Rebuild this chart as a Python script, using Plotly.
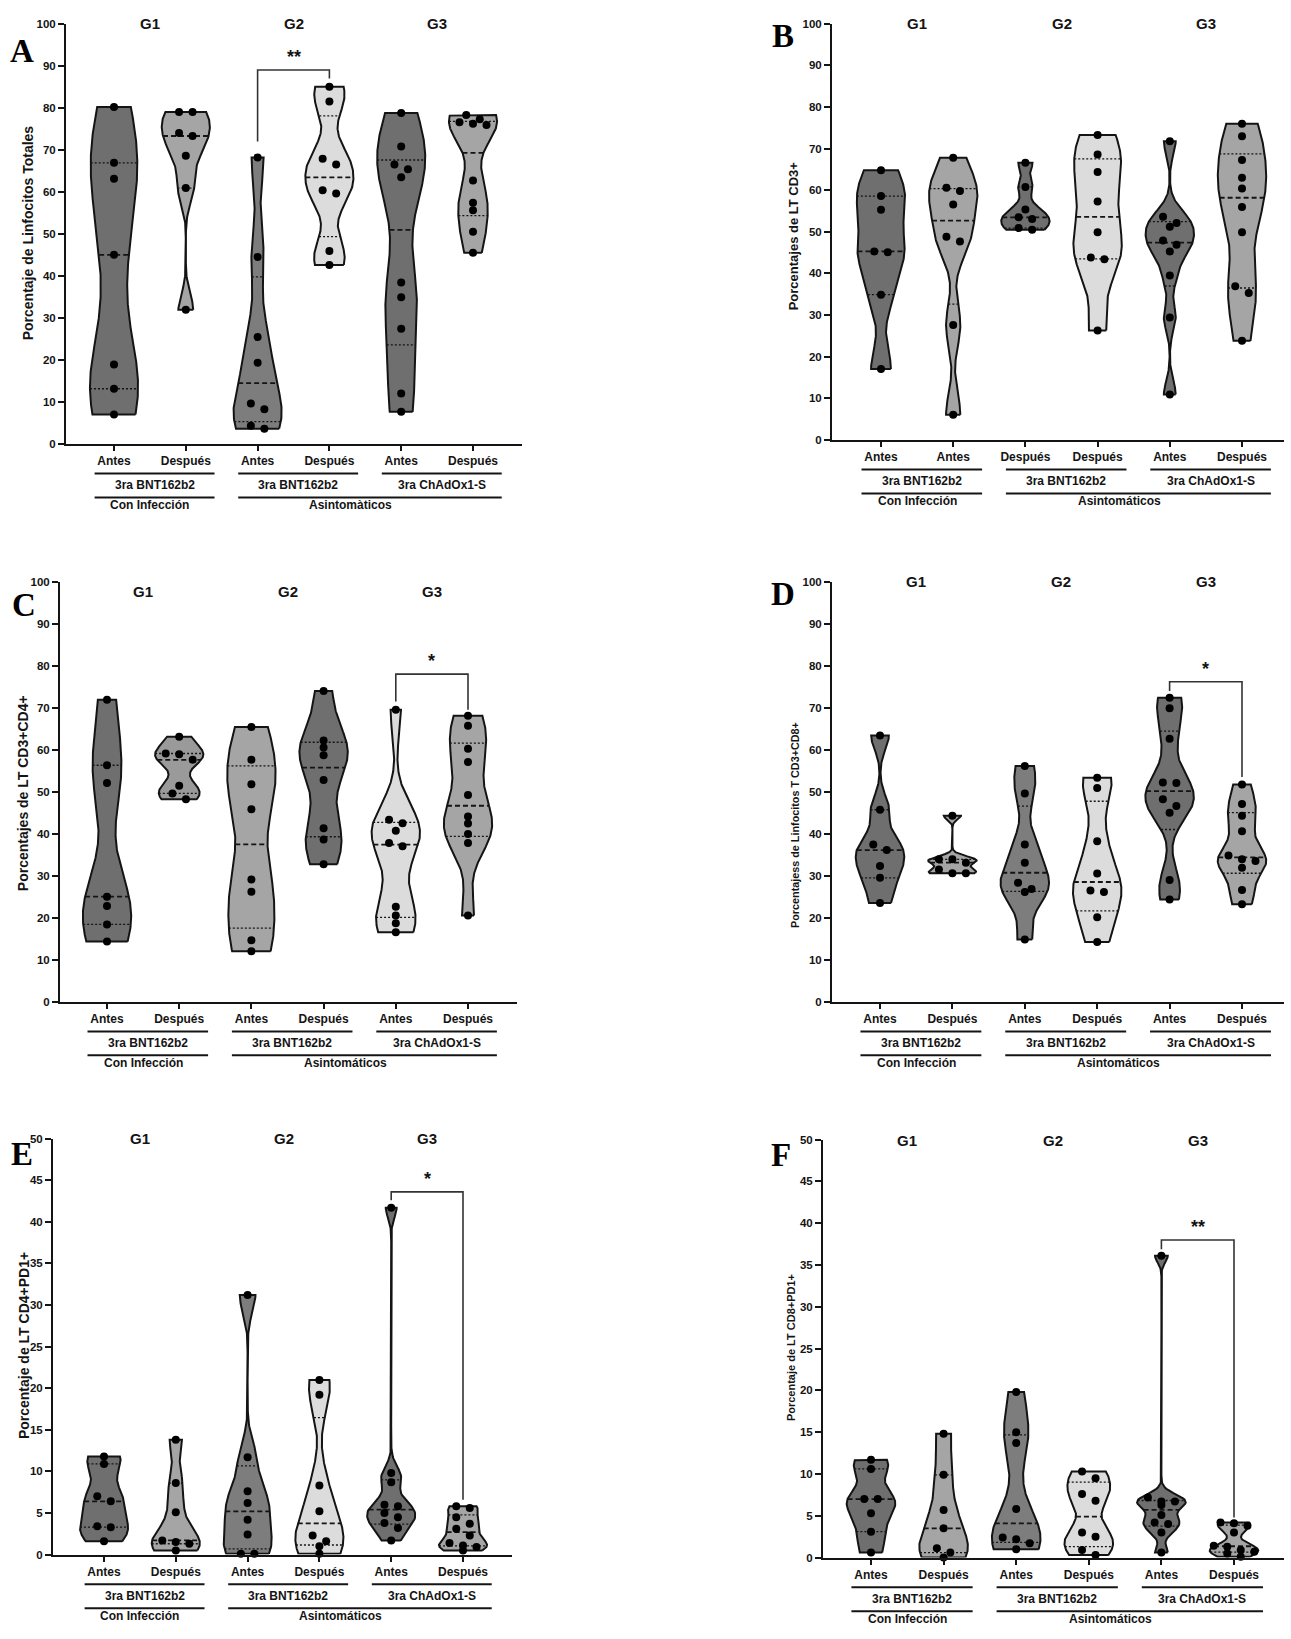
import numpy as np
import plotly.graph_objects as go

W, H = 1291, 1639

# ---------------- data ----------------
cats_std = ["Antes", "Después", "Antes", "Después", "Antes", "Después"]
cats_b = ["Antes", "Antes", "Después", "Después", "Antes", "Después"]
grupos = ["G1", "G2", "G3"]
vacunas = ["3ra BNT162b2", "3ra BNT162b2", "3ra ChAdOx1-S"]
estado_a = ["Con Infección", "Asintomàticos"]
estado = ["Con Infección", "Asintomáticos"]

# A: Porcentaje de Linfocitos Totales
a_g1_antes = [80.2, 66.9, 63.1, 45.0, 18.9, 13.1, 7.0]
a_g1_despues = [79.0, 79.0, 74.0, 73.3, 68.6, 60.9, 31.9]
a_g2_antes = [68.2, 44.5, 25.4, 19.3, 9.6, 8.2, 4.3, 3.6]
a_g2_despues = [85.0, 81.5, 67.9, 66.5, 60.4, 59.6, 45.9, 42.6]
a_g3_antes = [78.8, 70.8, 66.5, 65.4, 63.5, 38.4, 34.9, 27.4, 12.0, 7.6]
a_g3_despues = [78.3, 77.3, 76.6, 76.2, 75.9, 62.7, 57.4, 55.6, 50.5, 45.5]

# B: Porcentajes de LT CD3+
b_g1_1 = [64.8, 58.6, 55.3, 45.3, 45.1, 34.9, 17.0]
b_g1_2 = [67.8, 60.6, 59.8, 56.6, 48.8, 47.7, 27.6, 6.0]
b_g2_1 = [66.6, 60.8, 55.4, 53.5, 53.1, 50.9, 50.5]
b_g2_2 = [73.3, 68.6, 64.4, 57.3, 49.9, 43.8, 43.4, 26.3]
b_g3_antes = [71.8, 53.6, 52.1, 51.2, 47.9, 46.9, 45.3, 39.5, 29.4, 10.9]
b_g3_despues = [76.0, 73.0, 67.3, 63.0, 60.4, 56.0, 49.9, 36.9, 35.3, 23.8]

# C: Porcentajes de LT CD3+CD4+
c_g1_antes = [71.9, 56.3, 52.1, 25.0, 22.8, 18.4, 14.3]
c_g1_despues = [63.1, 59.1, 58.9, 57.6, 51.4, 49.6, 48.2]
c_g2_antes = [65.4, 57.6, 51.8, 45.8, 29.1, 26.2, 14.6, 12.0]
c_g2_despues = [74.0, 62.2, 60.5, 58.7, 52.8, 41.3, 38.6, 32.7]
c_g3_antes = [69.5, 43.3, 42.5, 40.7, 37.8, 37.0, 22.6, 20.5, 18.7, 16.5]
c_g3_despues = [68.1, 65.7, 60.2, 57.1, 49.2, 44.1, 42.4, 39.9, 37.8, 20.5]

# D: Porcentajess de Linfocitos T CD3+CD8+
d_g1_antes = [63.4, 45.7, 37.4, 36.1, 32.3, 29.5, 23.5]
d_g1_despues = [44.3, 33.9, 33.9, 33.1, 31.5, 30.6, 30.6]
d_g2_antes = [56.1, 49.6, 37.4, 33.1, 28.3, 26.8, 26.1, 14.8]
d_g2_despues = [53.3, 50.9, 38.2, 30.5, 26.5, 26.1, 20.1, 14.2]
d_g3_antes = [72.4, 69.9, 62.6, 52.2, 52.1, 48.2, 46.6, 45.0, 29.0, 24.3]
d_g3_despues = [51.7, 47.1, 44.3, 40.6, 34.8, 33.9, 33.5, 31.9, 26.6, 23.2]

# E: Porcentaje de LT CD4+PD1+
e_g1_antes = [11.8, 10.9, 7.0, 6.4, 3.4, 3.3, 1.6]
e_g1_despues = [13.8, 8.6, 5.1, 1.7, 1.5, 1.3, 0.5]
e_g2_antes = [31.2, 11.7, 7.6, 6.2, 4.2, 2.4, 0.1, 0.1]
e_g2_despues = [21.0, 19.2, 8.3, 5.2, 2.3, 1.6, 1.0, 0.1]
e_g3_antes = [41.7, 9.8, 8.7, 6.0, 5.8, 5.0, 4.5, 3.8, 3.2, 1.7]
e_g3_despues = [5.8, 5.6, 4.5, 3.7, 3.1, 2.3, 1.4, 1.1, 0.9, 0.5]

# F: Porcentaje de LT CD8+PD1+
f_g1_antes = [11.7, 10.6, 7.0, 7.0, 5.3, 3.1, 0.6]
f_g1_despues = [14.8, 9.9, 5.7, 3.5, 1.1, 0.6, 0.0]
f_g2_antes = [19.8, 15.0, 13.7, 5.8, 2.4, 2.2, 1.7, 1.0]
f_g2_despues = [10.3, 9.5, 7.6, 6.8, 3.0, 2.5, 0.9, 0.3]
f_g3_antes = [36.1, 7.2, 6.7, 6.7, 6.3, 5.1, 4.2, 4.0, 3.0, 0.6]
f_g3_despues = [4.2, 4.1, 3.8, 3.0, 1.4, 1.3, 0.9, 0.7, 0.5, 0.1]

# significance brackets: [left x, right x], [left leg end, top, right leg end]
sig_a_x, sig_a_y, sig_a_txt = [2, 3], [72.0, 89.0, 87.0], "**"
sig_c_x, sig_c_y, sig_c_txt = [4, 5], [71.5, 78.0, 69.5], "*"
sig_d_x, sig_d_y, sig_d_txt = [4, 5], [74.0, 76.2, 53.5], "*"
sig_e_x, sig_e_y, sig_e_txt = [4, 5], [42.6, 43.6, 6.6], "*"
sig_f_x, sig_f_y, sig_f_txt = [4, 5], [36.9, 38.0, 4.8], "**"

# ---------------- styling ----------------
DARK, DARK2, MED, MED2, LIGHT = "#6f6f6f", "#7d7d7d", "#a5a5a5", "#9a9a9a", "#dcdcdc"
SANS = "Liberation Sans, Arial, Helvetica, sans-serif"
SERIF = "Liberation Serif, Times New Roman, serif"
INK = "#141414"

panels = [
    dict(letter="A", title="Porcentaje de Linfocitos Totales", tsize=14,
         vals=[a_g1_antes, a_g1_despues, a_g2_antes, a_g2_despues, a_g3_antes, a_g3_despues],
         cats=cats_std, fills=[DARK, MED, DARK2, LIGHT, DARK, MED], estado=estado_a,
         left=66, right=522, y0=441, ytop=18, cat0=114, sp=71.8, ymax=100, dtick=10,
         tx=28, ty=229, lx=22, ly=45, gy=18, sig=(sig_a_x, sig_a_y, sig_a_txt)),
    dict(letter="B", title="Porcentajes de LT CD3+", tsize=13,
         vals=[b_g1_1, b_g1_2, b_g2_1, b_g2_2, b_g3_antes, b_g3_despues],
         cats=cats_b, fills=[DARK, MED, DARK, LIGHT, DARK, MED], estado=estado,
         left=832, right=1284, y0=437, ytop=18, cat0=881, sp=72.2, ymax=100, dtick=10,
         tx=793, ty=232, lx=783, ly=30, gy=18, sig=None),
    dict(letter="C", title="Porcentajes de LT CD3+CD4+", tsize=14,
         vals=[c_g1_antes, c_g1_despues, c_g2_antes, c_g2_despues, c_g3_antes, c_g3_despues],
         cats=cats_std, fills=[DARK, MED2, MED, DARK, LIGHT, MED], estado=estado,
         left=60, right=517, y0=1003, ytop=580, cat0=107, sp=72.2, ymax=100, dtick=10,
         tx=23, ty=793, lx=24, ly=603, gy=590, sig=(sig_c_x, sig_c_y, sig_c_txt)),
    dict(letter="D", title="Porcentajess de Linfocitos T CD3+CD8+", tsize=10.8,
         vals=[d_g1_antes, d_g1_despues, d_g2_antes, d_g2_despues, d_g3_antes, d_g3_despues],
         cats=cats_std, fills=[DARK, MED, DARK2, LIGHT, DARK, MED], estado=estado,
         left=832, right=1284, y0=1003, ytop=580, cat0=880, sp=72.4, ymax=100, dtick=10,
         tx=795, ty=825, lx=783, ly=592, gy=580, sig=(sig_d_x, sig_d_y, sig_d_txt)),
    dict(letter="E", title="Porcentaje de LT CD4+PD1+", tsize=14,
         vals=[e_g1_antes, e_g1_despues, e_g2_antes, e_g2_despues, e_g3_antes, e_g3_despues],
         cats=cats_std, fills=[DARK, MED, DARK2, LIGHT, DARK, MED], estado=estado,
         left=53, right=512, y0=1560, ytop=1141, cat0=104, sp=71.8, ymax=50, dtick=5,
         tx=24, ty=1350, lx=22, ly=1156, gy=1141, sig=(sig_e_x, sig_e_y, sig_e_txt)),
    dict(letter="F", title="Porcentaje de LT CD8+PD1+", tsize=11,
         vals=[f_g1_antes, f_g1_despues, f_g2_antes, f_g2_despues, f_g3_antes, f_g3_despues],
         cats=cats_std, fills=[DARK, MED, DARK2, LIGHT, DARK, MED], estado=estado,
         left=823, right=1284, y0=1563, ytop=1142, cat0=871, sp=72.6, ymax=50, dtick=5,
         tx=791, ty=1352, lx=781, ly=1157, gy=1143, sig=(sig_f_x, sig_f_y, sig_f_txt)),
]

HALF_W = 0.335      # max half width of a violin, in category units
DOT_STEP_PX = 13.5  # horizontal spacing of side-by-side dots
ROW_PX = 7.0        # dots closer than this vertically share a row


def px(x):
    return x / W


def py(y):
    return 1 - y / H


def kde(vals, npts=220):
    v = np.asarray(vals, float)
    sd = v.std(ddof=1)
    q1, q3 = np.percentile(v, [25, 75])
    s = min(sd, (q3 - q1) / 1.34) if q3 > q1 else sd
    bw = 0.7 * 0.9 * s * len(v) ** -0.2
    g = np.linspace(v.min(), v.max(), npts)
    d = np.exp(-0.5 * ((g[:, None] - v[None, :]) / bw) ** 2).sum(1)
    return g, d / d.max()


def swarm(vals, px_per_unit, step):
    order = sorted(vals, reverse=True)
    rows, cur = [], [order[0]]
    for v in order[1:]:
        if (cur[0] - v) * px_per_unit < ROW_PX:
            cur.append(v)
        else:
            rows.append(cur)
            cur = [v]
    rows.append(cur)
    xs, ys = [], []
    for r in rows:
        k = len(r)
        for i, v in enumerate(r):
            xs.append((i - (k - 1) / 2) * step)
            ys.append(v)
    return xs, ys


fig = go.Figure()
shapes, annotations = [], []
label_font = dict(family=SANS, size=12, color=INK, weight="bold")

for n, p in enumerate(panels, start=1):
    xa = "x" if n == 1 else f"x{n}"
    ya = "y" if n == 1 else f"y{n}"
    ypu = (p["y0"] - p["ytop"]) / p["ymax"]
    step = DOT_STEP_PX / p["sp"]

    for c, (vals, fill) in enumerate(zip(p["vals"], p["fills"])):
        g, d = kde(vals)
        vx = np.concatenate([c + HALF_W * d, (c - HALF_W * d)[::-1], [c + HALF_W * d[0]]])
        vy = np.concatenate([g, g[::-1], [g[0]]])
        fig.add_trace(go.Scatter(x=vx, y=vy, xaxis=xa, yaxis=ya, mode="lines",
                                 fill="toself", fillcolor=fill,
                                 line=dict(color=INK, width=2), hoverinfo="skip",
                                 showlegend=False))
        q1, med, q3 = np.percentile(vals, [25, 50, 75], method="weibull")
        for q, w, dash in [(q1, 1.3, "2px,2px"), (q3, 1.3, "2px,2px"), (med, 1.8, "5px,3px")]:
            hw = HALF_W * np.interp(q, g, d)
            fig.add_trace(go.Scatter(x=[c - hw, c + hw], y=[q, q], xaxis=xa, yaxis=ya,
                                     mode="lines", line=dict(color=INK, width=w, dash=dash),
                                     hoverinfo="skip", showlegend=False))
        ox, oy = swarm(vals, ypu, step)
        fig.add_trace(go.Scatter(x=[c + o for o in ox], y=oy, xaxis=xa, yaxis=ya,
                                 mode="markers", cliponaxis=False,
                                 marker=dict(color="black", size=8),
                                 showlegend=False))

    x_range = [(p["left"] - p["cat0"]) / p["sp"], (p["right"] - p["cat0"]) / p["sp"]]
    fig.layout[("xaxis" if n == 1 else f"xaxis{n}")] = dict(
        domain=[px(p["left"]), px(p["right"])], range=x_range, anchor=ya,
        tickmode="array", tickvals=list(range(6)), ticktext=p["cats"],
        ticks="outside", ticklen=5, tickwidth=2, tickcolor=INK,
        showline=True, linewidth=2, linecolor=INK, showgrid=False, zeroline=False,
        tickfont=label_font, fixedrange=True)
    fig.layout[("yaxis" if n == 1 else f"yaxis{n}")] = dict(
        domain=[py(p["y0"]), py(p["ytop"])], range=[0, p["ymax"]], anchor=xa,
        tickmode="linear", tick0=0, dtick=p["dtick"],
        ticks="outside", ticklen=6, tickwidth=2, tickcolor=INK,
        showline=True, linewidth=2, linecolor=INK, showgrid=False, zeroline=False,
        tickfont=dict(family=SANS, size=11.5, color=INK, weight="bold"), fixedrange=True)

    # group headers
    for gi, gname in enumerate(grupos):
        annotations.append(dict(x=2 * gi + 0.5, y=py(p["gy"]), xref=xa, yref="paper",
                                text=gname, showarrow=False, yanchor="middle",
                                font=dict(family=SANS, size=15, color=INK, weight="bold")))

    # bracketed labels below the axis
    y_l1, y_t1 = py(p["y0"] + 30), py(p["y0"] + 42)
    y_l2, y_t2 = py(p["y0"] + 54), py(p["y0"] + 62)
    for gi, vname in enumerate(vacunas):
        a, b = 2 * gi - 0.27, 2 * gi + 1 + 0.4
        shapes.append(dict(type="line", xref=xa, yref="paper", x0=a, x1=b, y0=y_l1, y1=y_l1,
                           line=dict(color=INK, width=2)))
        annotations.append(dict(x=(a + b) / 2, y=y_t1, xref=xa, yref="paper", text=vname,
                                showarrow=False, yanchor="middle", font=label_font))
    for (a, b, tx), name in zip([(-0.27, 1.4, 0.5), (1.73, 5.4, 3.3)], p["estado"]):
        shapes.append(dict(type="line", xref=xa, yref="paper", x0=a, x1=b, y0=y_l2, y1=y_l2,
                           line=dict(color=INK, width=2)))
        annotations.append(dict(x=tx, y=y_t2, xref=xa, yref="paper", text=name,
                                showarrow=False, yanchor="middle", font=label_font))

    # significance bracket
    if p["sig"]:
        sx, sy, stxt = p["sig"]
        fig.add_trace(go.Scatter(x=[sx[0], sx[0], sx[1], sx[1]], y=[sy[0], sy[1], sy[1], sy[2]],
                                 xaxis=xa, yaxis=ya, mode="lines", cliponaxis=False,
                                 line=dict(color="#333333", width=1.6),
                                 hoverinfo="skip", showlegend=False))
        annotations.append(dict(x=(sx[0] + sx[1]) / 2, y=sy[1], xref=xa, yref=ya, text=stxt,
                                showarrow=False, yanchor="bottom", yshift=1,
                                font=dict(family=SANS, size=18, color=INK, weight="bold")))

    # axis title and panel letter
    annotations.append(dict(x=px(p["tx"]), y=py(p["ty"]), xref="paper", yref="paper",
                            text=p["title"], textangle=-90, showarrow=False,
                            xanchor="center", yanchor="middle",
                            font=dict(family=SANS, size=p["tsize"], color=INK, weight="bold")))
    annotations.append(dict(x=px(p["lx"]), y=py(p["ly"]), xref="paper", yref="paper",
                            text=p["letter"], showarrow=False,
                            xanchor="center", yanchor="middle",
                            font=dict(family=SERIF, size=33, color="black", weight="bold")))

fig.update_layout(width=W, height=H, autosize=False,
                  margin=dict(l=0, r=0, t=0, b=0),
                  paper_bgcolor="white", plot_bgcolor="white",
                  shapes=shapes, annotations=annotations, showlegend=False)

fig.write_html("out.html")
